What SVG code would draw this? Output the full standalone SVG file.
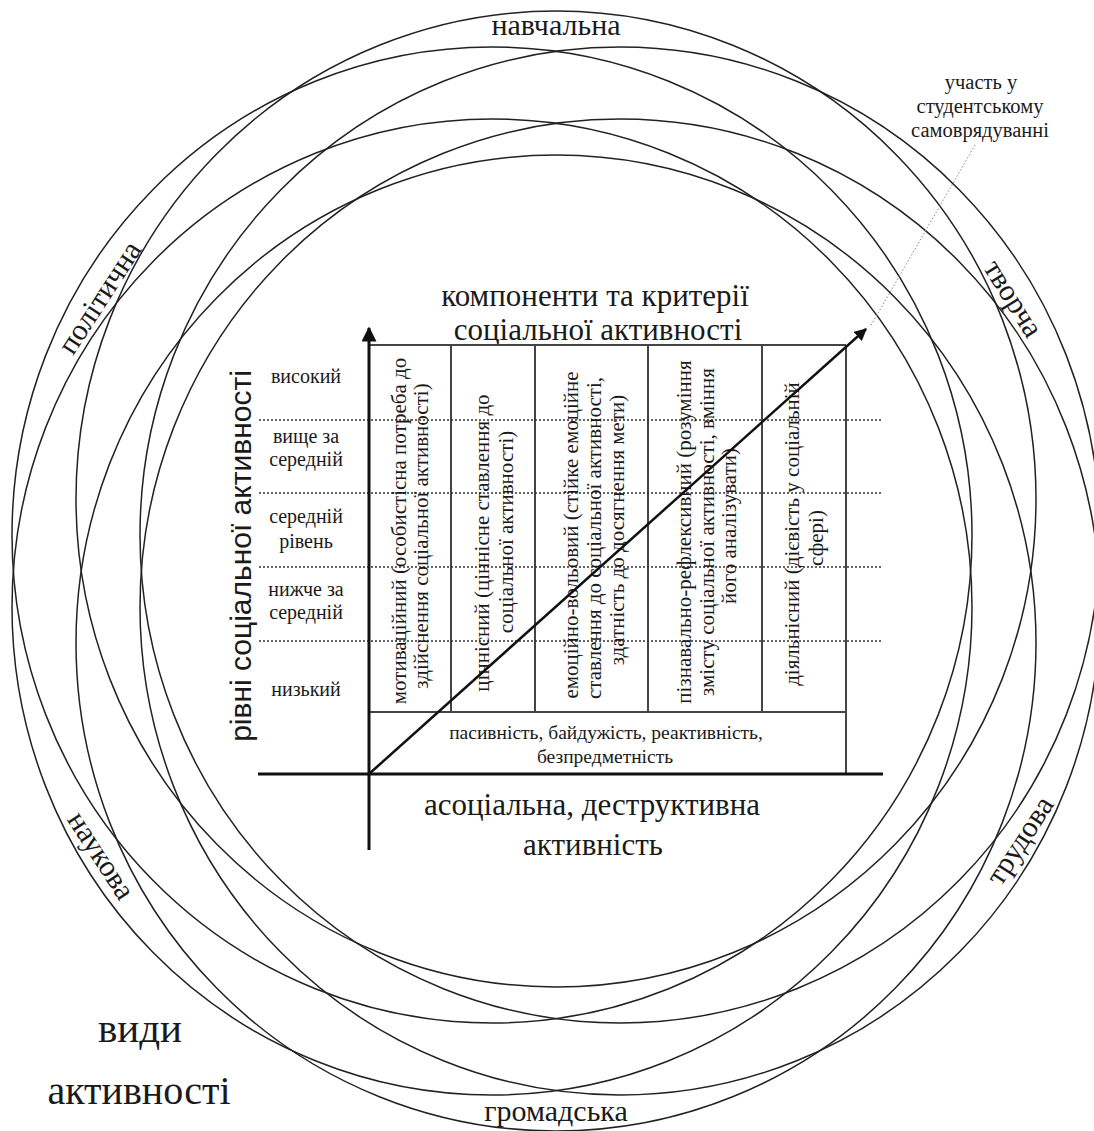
<svg xmlns="http://www.w3.org/2000/svg" width="1094" height="1131" viewBox="0 0 1094 1131">
<defs>
<marker id="ah" viewBox="0 0 10 10" refX="9" refY="5" markerWidth="5" markerHeight="5" orient="auto" markerUnits="strokeWidth">
<path d="M0,0 L10,5 L0,10 z" fill="#111"/>
</marker>
</defs>
<rect width="1094" height="1131" fill="#fff"/>
<g id="circles" fill="none" stroke="#222" stroke-width="1.5">
<ellipse id="c-navchalna" cx="556" cy="499" rx="480" ry="488"/>
<ellipse id="c-hromadska" cx="556" cy="643" rx="480" ry="488"/>
<ellipse id="c-politychna" cx="492" cy="535" rx="480" ry="488"/>
<ellipse id="c-tvorcha" cx="620" cy="535" rx="480" ry="488"/>
<ellipse id="c-naukova" cx="492" cy="607" rx="480" ry="488"/>
<ellipse id="c-trudova" cx="620" cy="607" rx="480" ry="488"/>
</g>
<g id="circle-labels" fill="#1a1a1a" text-anchor="middle" dominant-baseline="central">
<text x="556" y="24" font-family="Liberation Serif" font-size="30">навчальна</text>
<text x="556" y="1110" font-family="Liberation Serif" font-size="30">громадська</text>
<text x="99" y="297" transform="rotate(-57 99 297)" font-family="Liberation Serif" font-size="30">політична</text>
<text x="1014" y="298" transform="rotate(58 1014 298)" font-family="Liberation Serif" font-size="30">творча</text>
<text x="1019" y="840" transform="rotate(-57 1019 840)" font-family="Liberation Serif" font-size="30">трудова</text>
<text x="102" y="855" transform="rotate(57 102 855)" font-family="Liberation Serif" font-size="30">наукова</text>
</g>
<g id="vydy" fill="#1a1a1a" text-anchor="middle">
<text x="140" y="1042" font-family="Liberation Serif" font-size="41">види</text>
<text x="139" y="1104" font-family="Liberation Serif" font-size="40">активності</text>
</g>
<g id="samovryaduvannya" fill="#1a1a1a" text-anchor="middle">
<text x="981" y="89" font-family="Liberation Serif" font-size="20.5">участь у</text>
<text x="980" y="113" font-family="Liberation Serif" font-size="20.5">студентському</text>
<text x="980" y="137" font-family="Liberation Serif" font-size="20.5">самоврядуванні</text>
</g>
<g id="title" fill="#1a1a1a" text-anchor="middle">
<text x="595" y="306" font-family="Liberation Serif" font-size="31">компоненти та критерії</text>
<text x="598" y="340" font-family="Liberation Serif" font-size="31">соціальної активності</text>
</g>
<g id="y-label" fill="#1a1a1a" text-anchor="middle">
<text x="251" y="556" transform="rotate(-90 251 556)" font-family="Liberation Sans" font-size="30">рівні соціальної активності</text>
</g>
<g id="levels" fill="#1a1a1a" text-anchor="middle">
<text x="306" y="383" font-family="Liberation Serif" font-size="20">високий</text>
<text x="306" y="443" font-family="Liberation Serif" font-size="20">вище за</text>
<text x="306" y="466" font-family="Liberation Serif" font-size="20">середній</text>
<text x="306" y="523" font-family="Liberation Serif" font-size="20">середній</text>
<text x="306" y="548" font-family="Liberation Serif" font-size="20">рівень</text>
<text x="306" y="596" font-family="Liberation Serif" font-size="20">нижче за</text>
<text x="306" y="619" font-family="Liberation Serif" font-size="20">середній</text>
<text x="306" y="696" font-family="Liberation Serif" font-size="20">низький</text>
</g>
<g id="table" fill="none">
<g stroke="#444" stroke-width="2">
<line x1="369" y1="345" x2="846" y2="345"/>
<line x1="846" y1="345" x2="846" y2="774"/>
<line x1="369" y1="712" x2="846" y2="712"/>
<line x1="451" y1="345" x2="451" y2="712"/>
<line x1="535" y1="345" x2="535" y2="712"/>
<line x1="648" y1="345" x2="648" y2="712"/>
<line x1="762" y1="345" x2="762" y2="712"/>
</g>
<g stroke="#333" stroke-width="1.5" stroke-dasharray="2 2">
<line x1="259" y1="420" x2="882" y2="420"/>
<line x1="259" y1="493" x2="882" y2="493"/>
<line x1="259" y1="567" x2="882" y2="567"/>
<line x1="259" y1="641" x2="882" y2="641"/>
</g>
</g>
<g id="columns" fill="#1a1a1a" text-anchor="middle">
<g id="col-motyvatsiinyi">
<text x="406" y="531" transform="rotate(-90 406 531)" font-family="Liberation Serif" font-size="21">мотиваційний (особистісна потреба до</text>
<text x="428" y="536" transform="rotate(-90 428 536)" font-family="Liberation Serif" font-size="21">здійснення соціальної активності)</text>
</g>
<g id="col-tsinnisnyi">
<text x="489" y="543" transform="rotate(-90 489 543)" font-family="Liberation Serif" font-size="21">ціннісний (ціннісне ставлення до</text>
<text x="513" y="532" transform="rotate(-90 513 532)" font-family="Liberation Serif" font-size="21">соціальної активності)</text>
</g>
<g id="col-emotsiino">
<text x="578" y="535" transform="rotate(-90 578 535)" font-family="Liberation Serif" font-size="21">емоційно-вольовий (стійке емоційне</text>
<text x="601" y="538" transform="rotate(-90 601 538)" font-family="Liberation Serif" font-size="21">ставлення до соціальної активності,</text>
<text x="624" y="530" transform="rotate(-90 624 530)" font-family="Liberation Serif" font-size="21">здатність до досягнення мети)</text>
</g>
<g id="col-piznavalno">
<text x="691" y="532" transform="rotate(-90 691 532)" font-family="Liberation Serif" font-size="21">пізнавально-рефлексивний (розуміння</text>
<text x="714" y="532" transform="rotate(-90 714 532)" font-family="Liberation Serif" font-size="21">змісту соціальної активності, вміння</text>
<text x="736" y="526" transform="rotate(-90 736 526)" font-family="Liberation Serif" font-size="21">його аналізувати)</text>
</g>
<g id="col-diialnisnyi">
<text x="799" y="534" transform="rotate(-90 799 534)" font-family="Liberation Serif" font-size="21">діяльнісний (дієвість у соціальній</text>
<text x="823" y="538" transform="rotate(-90 823 538)" font-family="Liberation Serif" font-size="21">сфері)</text>
</g>
</g>
<g id="passive" fill="#1a1a1a" text-anchor="middle">
<text x="606" y="739" font-family="Liberation Serif" font-size="19.5">пасивність, байдужість, реактивність,</text>
<text x="605" y="763" font-family="Liberation Serif" font-size="19.5">безпредметність</text>
</g>
<g id="asocial" fill="#1a1a1a" text-anchor="middle">
<text x="592" y="815" font-family="Liberation Serif" font-size="31">асоціальна, деструктивна</text>
<text x="593" y="855" font-family="Liberation Serif" font-size="31">активність</text>
</g>
<g id="connectors" fill="none">
<line x1="258" y1="774" x2="883" y2="774" stroke="#111" stroke-width="3"/>
<line x1="369" y1="850" x2="369" y2="328" stroke="#111" stroke-width="3" marker-end="url(#ah)"/>
<line x1="369" y1="774" x2="866" y2="329" stroke="#111" stroke-width="2.5" marker-end="url(#ah)"/>
<line x1="975" y1="145" x2="870" y2="327" stroke="#888" stroke-width="1" stroke-dasharray="1.5 2"/>
</g>
</svg>
